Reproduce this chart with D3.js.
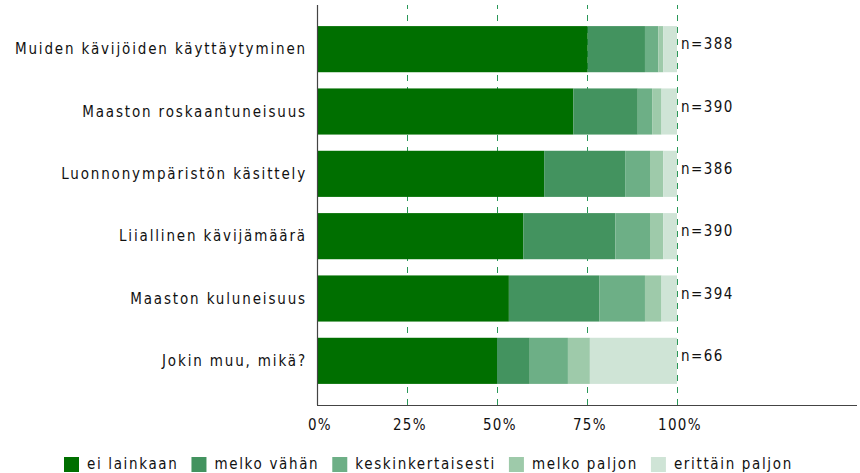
<!DOCTYPE html>
<html lang="fi">
<head>
    <meta charset="UTF-8">
    <title>Kävijöiden häiriötekijät</title>
    <script src="https://cdn.jsdelivr.net/npm/d3@7"></script>
    <style>
        html, body {
            margin: 0;
            background: white;
        }
        text {
            font-family: "DejaVu Sans Condensed", "DejaVu Sans", sans-serif;
            fill: #111;
        }
    </style>
</head>
<body>
    <div id="vis"></div>
    <script>

        var categories = [
            "Muiden kävijöiden käyttäytyminen",
            "Maaston roskaantuneisuus",
            "Luonnonympäristön käsittely",
            "Liiallinen kävijämäärä",
            "Maaston kuluneisuus",
            "Jokin muu, mikä?"
        ];
        var counts = [388, 390, 386, 390, 394, 66];

        var series = ["ei lainkaan", "melko vähän", "keskinkertaisesti", "melko paljon", "erittäin paljon"];
        var colours = ["#006f00", "#43935f", "#6daf86", "#9ecaaa", "#cfe4d6"];

        // percent shares, one array per answer option, in category order
        var eiLainkaan     = [75.2, 71.2, 63.1, 57.3, 53.3, 50.0];
        var melkoVahan     = [15.9, 17.9, 22.5, 25.6, 25.1, 9.1];
        var keskinkertaisesti = [3.7, 4.0, 6.9, 9.6, 12.7, 10.6];
        var melkoPaljon    = [1.4, 2.6, 3.7, 3.7, 4.6, 6.1];
        var erittainPaljon = [3.8, 4.3, 3.8, 3.8, 4.3, 24.2];

        var tickValues = [0, 25, 50, 75, 100];

        var values = [eiLainkaan, melkoVahan, keskinkertaisesti, melkoPaljon, erittainPaljon];

        var rows = categories.map(function(c, i){
            var r = {cat: c, n: counts[i]};
            series.forEach(function(s, j){ r[s] = values[j][i]; });
            return r;
        });

        var width = 860, height = 473;

        var svg = d3.select('#vis')
                    .append('svg')
                        .attr('width', width)
                        .attr('height', height);

        var x = d3.scaleLinear()
                    .domain([0, 100])
                    .range([317, 677]);

        var y = d3.scaleBand()
                    .domain(categories)
                    .range([18, 392])
                    .paddingInner(0.26)
                    .paddingOuter(0.13);

        var stacked = d3.stack().keys(series)(rows);

        // grid lines
        svg.append('g')
            .selectAll('line')
            .data(tickValues.slice(1))
            .enter()
            .append('line')
                .attr('x1', function(d){ return x(d) + 0.5; })
                .attr('x2', function(d){ return x(d) + 0.5; })
                .attr('y1', 5)
                .attr('y2', 405)
                .attr('stroke', '#2a9858')
                .attr('stroke-width', 1)
                .attr('stroke-dasharray', '6,6')
                .attr('stroke-dashoffset', 2);

        // bars
        svg.append('g')
            .selectAll('g')
            .data(stacked)
            .enter()
            .append('g')
                .attr('fill', function(d, i){ return colours[i]; })
            .selectAll('rect')
            .data(function(d){ return d; })
            .enter()
            .append('rect')
                .attr('x', function(d){ return x(d[0]); })
                .attr('width', function(d){ return x(d[1]) - x(d[0]); })
                .attr('y', function(d){ return y(d.data.cat); })
                .attr('height', y.bandwidth());

        // axes lines
        svg.append('line')
            .attr('x1', 317.5).attr('x2', 317.5)
            .attr('y1', 5).attr('y2', 405)
            .attr('stroke', '#444').attr('stroke-width', 1.2);
        svg.append('line')
            .attr('x1', 317).attr('x2', 857)
            .attr('y1', 405.5).attr('y2', 405.5)
            .attr('stroke', '#444').attr('stroke-width', 1.2);

        // category labels
        svg.append('g')
            .selectAll('text')
            .data(categories)
            .enter()
            .append('text')
                .attr('x', 307)
                .attr('y', function(d){ return y(d) + y.bandwidth() / 2; })
                .attr('dy', '0.35em')
                .attr('text-anchor', 'end')
                .attr('font-size', '15px')
                .style('letter-spacing', '1.85px')
                .text(function(d){ return d; });

        // n labels
        svg.append('g')
            .selectAll('text')
            .data(rows)
            .enter()
            .append('text')
                .attr('x', 681)
                .attr('y', function(d){ return y(d.cat) + y.bandwidth() / 2 - 5; })
                .attr('dy', '0.35em')
                .attr('font-size', '15px')
                .style('letter-spacing', '1.4px')
                .text(function(d){ return 'n=' + d.n; });

        // tick labels
        svg.append('g')
            .selectAll('text')
            .data(tickValues)
            .enter()
            .append('text')
                .attr('x', function(d){ return x(d) + 3; })
                .attr('y', 425)
                .attr('dy', '0.35em')
                .attr('text-anchor', 'middle')
                .attr('font-size', '15px')
                .style('letter-spacing', '1.4px')
                .text(function(d){ return d + '%'; });

        // legend
        var legend = svg.append('g');
        var cursor = 0;
        series.forEach(function(s, i){
            var item = legend.append('g').attr('transform', 'translate(' + cursor + ',0)');
            item.append('rect')
                .attr('x', 0).attr('y', 457)
                .attr('width', 15).attr('height', 15)
                .attr('fill', colours[i]);
            var t = item.append('text')
                .attr('x', 23).attr('y', 464)
                .attr('dy', '0.35em')
                .attr('font-size', '15px')
                .style('letter-spacing', '1.65px')
                .text(s);
            cursor += 23 + t.node().getComputedTextLength() + 13;
        });
        cursor -= 13;
        legend.attr('transform', 'translate(' + Math.round(428 - cursor / 2) + ',0)');

    </script>
</body>
</html>
